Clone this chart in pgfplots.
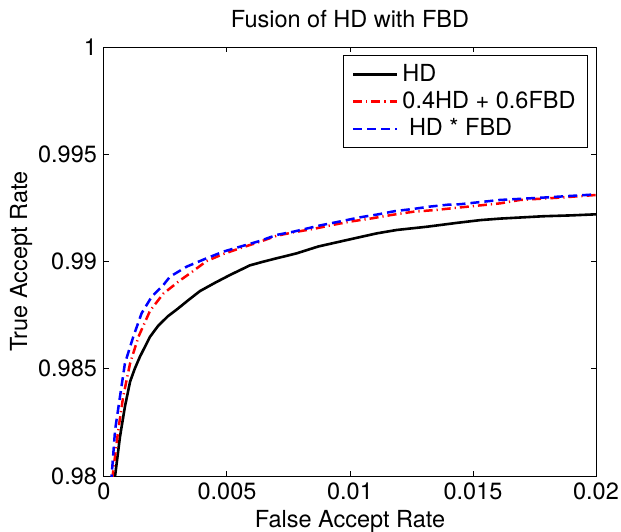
\documentclass[border=0pt]{standalone}
\usepackage{fontspec}
\setmainfont{TeX Gyre Heros}
\usepackage{pgfplots}
\pgfplotsset{compat=1.18}
\pgfkeys{/pgf/number format/assume math mode=true}

\begin{document}
\begin{tikzpicture}
\begin{axis}[at={(0,0)},anchor=south west,
  scale only axis,width=246pt,height=214.5pt,
  xmin=0,xmax=0.02,ymin=0.98,ymax=1,
  xtick={0,0.005,0.01,0.015,0.02},xticklabels={0,0.005,0.01,0.015,0.02},
  ytick={0.98,0.985,0.99,0.995,1},yticklabels={0.98,0.985,0.99,0.995,1},
  scaled ticks=false,
  tick align=inside,major tick length=2.5pt,
  xtick pos=both,ytick pos=both,
  axis line style={line width=0.5pt},
  every tick/.style={black,line width=0.5pt},
  font=\fontsize{11.75}{14}\selectfont,
  every axis title shift=0pt,
  title={Fusion of HD with FBD},
  title style={at={(axis description cs:0.5,1.0443)},anchor=base,inner sep=0pt},
  xlabel={False Accept Rate},
  xlabel style={at={(axis description cs:0.5,-0.1189)},anchor=base,inner sep=0pt},
  ylabel={True Accept Rate},
  ylabel style={at={(axis description cs:-0.1565,0.5)},anchor=base,inner sep=0pt},
  legend style={at={(axis description cs:1,1)},anchor=north east,xshift=-4pt,yshift=-4pt,
    draw=black,line width=0.5pt,cells={anchor=west},row sep=-0.5pt,
    inner xsep=4pt,inner ysep=2.5pt,font=\fontsize{11.75}{14}\selectfont},
  legend image code/.code={\draw[#1] (0pt,0pt) -- (22pt,0pt);},
]
\addplot[black,line width=1.3pt] coordinates {
(0.00040,0.9790)(0.00045,0.9800)(0.00065,0.98183)(0.00085,0.98323)(0.00106,0.98440)
(0.00125,0.98500)(0.00146,0.98556)(0.00187,0.98649)(0.00220,0.98700)(0.00260,0.98745)
(0.00300,0.98780)(0.00343,0.98820)(0.00390,0.98862)(0.00450,0.98900)(0.00512,0.98937)
(0.00593,0.98982)(0.00650,0.99000)(0.00702,0.99015)(0.00783,0.99038)(0.00871,0.99070)
(0.00987,0.99100)(0.01108,0.99131)(0.01190,0.99147)(0.01312,0.99162)(0.01434,0.99180)
(0.01530,0.99193)(0.01610,0.99200)(0.01786,0.99211)(0.01900,0.99215)(0.02000,0.99220)};
\addplot[red,line width=1.25pt,dash pattern=on 4.5pt off 2pt on 0.6pt off 2pt] coordinates {
(0.00028,0.9790)(0.00035,0.9800)(0.00058,0.98214)(0.00078,0.98370)(0.00106,0.98525)
(0.00140,0.98649)(0.00187,0.98770)(0.00241,0.98850)(0.00309,0.98912)(0.00350,0.98945)
(0.00417,0.99002)(0.00485,0.99035)(0.00553,0.99062)(0.00634,0.99092)(0.00702,0.99120)
(0.00770,0.99136)(0.00851,0.99152)(0.00950,0.99175)(0.01000,0.99186)(0.01088,0.99201)
(0.01169,0.99217)(0.01257,0.99232)(0.01346,0.99240)(0.01447,0.99252)(0.01610,0.99271)
(0.01691,0.99287)(0.01854,0.99298)(0.02000,0.99310)};
\addplot[blue,line width=1.25pt,dash pattern=on 4.5pt off 2.5pt] coordinates {
(0.00024,0.9790)(0.00031,0.9800)(0.00045,0.98214)(0.00065,0.98370)(0.00085,0.98525)
(0.00119,0.98649)(0.00153,0.98759)(0.00194,0.98836)(0.00241,0.98890)(0.00268,0.98929)
(0.00336,0.98976)(0.00417,0.99015)(0.00485,0.99046)(0.00553,0.99069)(0.00634,0.99096)
(0.00702,0.99124)(0.00770,0.99139)(0.00878,0.99168)(0.00973,0.99190)(0.01041,0.99206)
(0.01115,0.99220)(0.01183,0.99235)(0.01257,0.99245)(0.01325,0.99256)(0.01400,0.99265)
(0.01447,0.99267)(0.01610,0.99287)(0.01786,0.99298)(0.02000,0.99313)};
\legend{HD,0.4HD + 0.6FBD,\hspace{0.28em}HD * FBD}
\end{axis}
\pgfresetboundingbox
\path (-52pt,-27.5pt) rectangle (258.5pt,238pt);
\end{tikzpicture}
\end{document}
